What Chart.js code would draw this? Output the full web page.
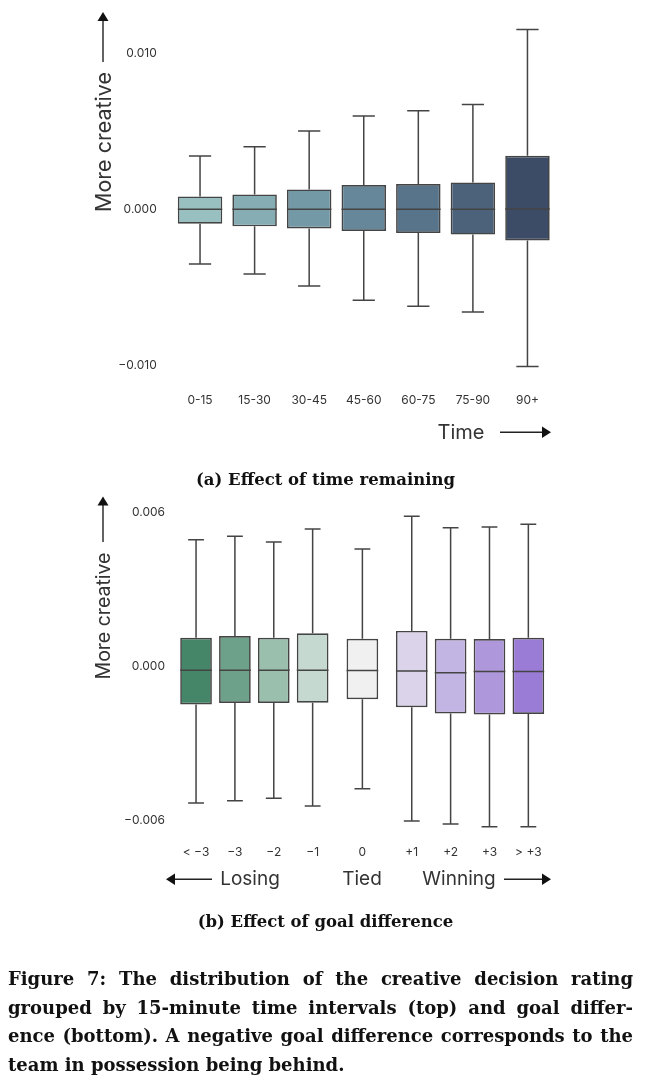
<!DOCTYPE html>
<html>
<head>
<meta charset="utf-8">
<script src="https://cdn.jsdelivr.net/npm/chart.js@4.4.1/dist/chart.umd.min.js"></script>
<style>
  body { margin: 0; background: #fff; width: 651px; height: 1086px; position: relative; overflow: hidden; }
  .box { position: absolute; left: 0; width: 651px; }
  .sub { position: absolute; left: 0; width: 651px; text-align: center; font: bold 16.5px "DejaVu Serif", serif; color: #111; }
  .cap { position: absolute; left: 8px; width: 625px; font: bold 18px/28.5px "DejaVu Serif", serif; color: #111; }
  .cap div { text-align: justify; text-align-last: justify; white-space: nowrap; }
  .cap div.last { text-align-last: left; }
  svg { position: absolute; left: 0; top: 0; }
</style>
</head>
<body>
<div class="box" style="top:0;height:420px"><canvas id="timeChart"></canvas></div>
<div class="box" style="top:489px;height:380px"><canvas id="goalChart"></canvas></div>

<svg width="651" height="1086" font-family="Inter, sans-serif" fill="#333">
  <text x="103" y="142" font-size="21.5" text-anchor="middle" dominant-baseline="central" transform="rotate(-90 103 142)">More creative</text>
  <line x1="103" y1="62" x2="103" y2="20" stroke="#222" stroke-width="1.4"/>
  <polygon points="103,12 97.5,21 108.5,21" fill="#111"/>
  <text x="461" y="432" font-size="20" text-anchor="middle" dominant-baseline="central">Time</text>
  <line x1="500" y1="432.3" x2="543" y2="432.3" stroke="#222" stroke-width="1.4"/>
  <polygon points="551,432.3 542,426.5 542,438" fill="#111"/>

  <text x="103" y="616" font-size="19.5" text-anchor="middle" dominant-baseline="central" transform="rotate(-90 103 616)">More creative</text>
  <line x1="103" y1="542" x2="103" y2="504" stroke="#222" stroke-width="1.4"/>
  <polygon points="103,496.5 97.5,505.5 108.5,505.5" fill="#111"/>

  <line x1="174" y1="879.3" x2="212" y2="879.3" stroke="#222" stroke-width="1.4"/>
  <polygon points="166,879.3 175,873.5 175,885" fill="#111"/>
  <text x="250" y="878" font-size="19" text-anchor="middle" dominant-baseline="central">Losing</text>
  <text x="362" y="878" font-size="19" text-anchor="middle" dominant-baseline="central">Tied</text>
  <text x="459" y="878" font-size="19" text-anchor="middle" dominant-baseline="central">Winning</text>
  <line x1="504" y1="879.3" x2="543" y2="879.3" stroke="#222" stroke-width="1.4"/>
  <polygon points="551,879.3 542,873.5 542,885" fill="#111"/>
</svg>

<div class="sub" style="top:470px">(a) Effect of time remaining</div>
<div class="sub" style="top:912px">(b) Effect of goal difference</div>
<div class="cap" style="top:965px">
  <div>Figure 7: The distribution of the creative decision rating</div>
  <div>grouped by 15-minute time intervals (top) and goal differ-</div>
  <div>ence (bottom). A negative goal difference corresponds to the</div>
  <div class="last">team in possession being behind.</div>
</div>

<script>
// top panel: rating by time interval
const timeLabels = ['0-15', '15-30', '30-45', '45-60', '60-75', '75-90', '90+'];
const timeLower  = [-0.00351, -0.00415, -0.00492, -0.00583, -0.00622, -0.00658, -0.01008];
const timeQ1     = [-0.00092, -0.00109, -0.00122, -0.00139, -0.00152, -0.00162, -0.00199];
const timeMedian = [0, 0, 0, 0, 0, 0, 0.00002];
const timeQ3     = [0.00083, 0.00096, 0.00128, 0.00156, 0.00162, 0.00173, 0.00344];
const timeUpper  = [0.00342, 0.00402, 0.00502, 0.00598, 0.00633, 0.00673, 0.01154];
const timeColors = ['#98c0c1', '#86adb4', '#7499a6', '#668699', '#58748b', '#4b627a', '#3c4b66'];
const timeTicks  = [-0.01, 0, 0.01];

// bottom panel: rating by goal difference
const goalLabels    = ['< \u22123', '\u22123', '\u22122', '\u22121', '0', '+1', '+2', '+3', '> +3'];
const goalPositions = [0, 1, 2, 3, 4.28, 5.55, 6.55, 7.55, 8.55];
const goalLower  = [-0.00531, -0.00522, -0.00512, -0.00542, -0.00475, -0.00601, -0.00612, -0.00623, -0.00623];
const goalQ1     = [-0.00147, -0.00141, -0.00141, -0.00140, -0.00126, -0.00157, -0.00182, -0.00186, -0.00184];
const goalMedian = [-0.00013, -0.00013, -0.00013, -0.00013, -0.00014, -0.00016, -0.00023, -0.00018, -0.00018];
const goalQ3     = [0.00113, 0.00120, 0.00113, 0.00131, 0.00109, 0.00140, 0.00109, 0.00108, 0.00113];
const goalUpper  = [0.00495, 0.00509, 0.00486, 0.00537, 0.00459, 0.00587, 0.00542, 0.00545, 0.00556];
const goalColors = ['#458669', '#6ea189', '#9abfad', '#c5d9d0', '#f0f0f0', '#dbd3ea', '#c3b5e3', '#ae97da', '#9a7bd6'];
const goalTicks  = [-0.006, 0, 0.006];

const edge = '#444';

function fmt(v) {
  return v.toFixed(3).replace('-', '\u2212');
}

// whiskers, caps and median lines on top of the floating bars
const boxWhiskers = {
  id: 'boxWhiskers',
  afterDatasetsDraw(chart, args, opts) {
    const ctx = chart.ctx;
    const y = chart.scales.y;
    const meta = chart.getDatasetMeta(0);
    ctx.save();
    ctx.strokeStyle = edge;
    ctx.lineWidth = 1.5;
    meta.data.forEach((bar, i) => {
      const cx = bar.x, half = bar.width / 2, cap = bar.width / 4;
      const yLo = y.getPixelForValue(opts.lower[i]);
      const yQ1 = y.getPixelForValue(opts.q1[i]);
      const yQ3 = y.getPixelForValue(opts.q3[i]);
      const yHi = y.getPixelForValue(opts.upper[i]);
      const yMed = y.getPixelForValue(opts.median[i]);
      ctx.beginPath();
      ctx.moveTo(cx, yQ3); ctx.lineTo(cx, yHi);
      ctx.moveTo(cx - cap, yHi); ctx.lineTo(cx + cap, yHi);
      ctx.moveTo(cx, yQ1); ctx.lineTo(cx, yLo);
      ctx.moveTo(cx - cap, yLo); ctx.lineTo(cx + cap, yLo);
      ctx.moveTo(cx - half, yMed); ctx.lineTo(cx + half, yMed);
      ctx.stroke();
    });
    ctx.restore();
  }
};

const tickFont = { family: 'Inter, sans-serif', size: 12 };

function fixY(width) {
  return s => { s.width = width; s.paddingTop = 0; s.paddingBottom = 0; };
}
function fixX(height) {
  return s => { s.height = height; s.paddingLeft = 0; s.paddingRight = 0; };
}

new Chart(document.getElementById('timeChart'), {
  type: 'bar',
  plugins: [boxWhiskers],
  data: {
    labels: timeLabels,
    datasets: [{
      data: timeLabels.map((l, i) => [timeQ1[i], timeQ3[i]]),
      backgroundColor: timeColors,
      borderColor: edge,
      borderWidth: 1.7,
      borderSkipped: false,
      categoryPercentage: 1,
      barPercentage: 0.815
    }]
  },
  options: {
    responsive: true,
    maintainAspectRatio: false,
    animation: false,
    layout: { padding: { top: 16, right: 96.25, left: 0, bottom: 0 } },
    plugins: {
      legend: { display: false },
      tooltip: { enabled: false },
      boxWhiskers: { lower: timeLower, q1: timeQ1, median: timeMedian, q3: timeQ3, upper: timeUpper }
    },
    scales: {
      x: {
        grid: { display: false, drawTicks: false },
        border: { display: false },
        ticks: { color: '#333', font: tickFont, padding: 9, maxRotation: 0 },
        afterFit: fixX(36)
      },
      y: {
        min: -0.0112,
        max: 0.0124,
        grid: { display: false, drawTicks: false },
        border: { display: false },
        afterBuildTicks: s => { s.ticks = timeTicks.map(v => ({ value: v })); },
        ticks: { color: '#333', font: tickFont, padding: 16, callback: v => fmt(v) },
        afterFit: fixY(172.75)
      }
    }
  }
});

new Chart(document.getElementById('goalChart'), {
  type: 'bar',
  plugins: [boxWhiskers],
  data: {
    datasets: [{
      data: goalPositions.map((p, i) => ({ x: p, y: [goalQ1[i], goalQ3[i]] })),
      backgroundColor: goalColors,
      borderColor: edge,
      borderWidth: 1.7,
      borderSkipped: false,
      categoryPercentage: 1,
      barPercentage: 0.815
    }]
  },
  options: {
    responsive: true,
    maintainAspectRatio: false,
    animation: false,
    layout: { padding: { top: 11, right: 93.5, left: 0, bottom: 0 } },
    plugins: {
      legend: { display: false },
      tooltip: { enabled: false },
      boxWhiskers: { lower: goalLower, q1: goalQ1, median: goalMedian, q3: goalQ3, upper: goalUpper }
    },
    scales: {
      x: {
        type: 'linear',
        min: -0.67,
        max: 9.3,
        offset: false,
        grid: { display: false, drawTicks: false },
        border: { display: false },
        afterBuildTicks: s => { s.ticks = goalPositions.map(v => ({ value: v })); },
        ticks: { color: '#333', font: tickFont, padding: 6, maxRotation: 0, autoSkip: false,
                 callback: (v, i) => goalLabels[i] },
        afterFit: fixX(30.2)
      },
      y: {
        min: -0.0067,
        max: 0.0065,
        grid: { display: false, drawTicks: false },
        border: { display: false },
        afterBuildTicks: s => { s.ticks = goalTicks.map(v => ({ value: v })); },
        ticks: { color: '#333', font: tickFont, padding: 5, callback: v => fmt(v) },
        afterFit: fixY(170)
      }
    }
  }
});
</script>
</body>
</html>
